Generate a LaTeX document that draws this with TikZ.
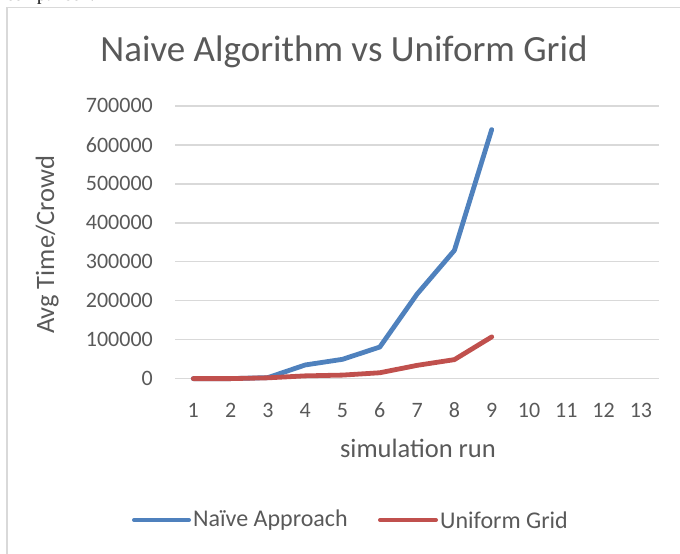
\documentclass[tikz,border=0pt]{standalone}
\usepackage{fontspec}
\setmainfont{Carlito}
\newfontfamily\serifdoc{Liberation Serif}
\definecolor{txtgray}{HTML}{595959}
\definecolor{gridgray}{HTML}{D9D9D9}
\definecolor{naiveblue}{HTML}{4F81BD}
\definecolor{gridred}{HTML}{C0504D}
\tikzset{
  ticklab/.style={text=txtgray, font=\fontsize{22}{24}\selectfont, inner sep=0pt},
  gridln/.style={draw=gridgray, line width=1.6pt},
  series/.style={line width=4.8pt, line cap=round, line join=round},
  legtxt/.style={text=txtgray, font=\fontsize{24}{26}\selectfont, inner sep=0pt, anchor=west},
}
\begin{document}
\begin{tikzpicture}[x=1pt, y=-1pt]
\useasboundingbox (0,0) rectangle (680,554);
\begin{scope}
\clip (0,0) rectangle (680,554);
% clipped text above the chart
\node[anchor=base west, inner sep=0pt, font=\serifdoc\fontsize{18}{20}\selectfont] (prev) at (6,1) {comparison.};
% chart frame
\draw[gridgray, line width=1.4pt] (6.8,600) -- (6.8,7.3) -- (700,7.3);
\end{scope}
% title
\node[anchor=base, text=txtgray, font=\fontsize{37}{40}\selectfont, inner sep=0pt] (title) at (344,61.7) {Naive Algorithm vs Uniform Grid};
% gridlines and y tick labels
\foreach \v/\lab in {0/0,1/100000,2/200000,3/300000,4/400000,5/500000,6/600000,7/700000}{
  \draw[gridln] (175,{378.6-38.97*\v}) -- (658.5,{378.6-38.97*\v});
  \node[ticklab, anchor=east] (yl\v) at (153,{378.6-38.97*\v}) {\lab};
}
% x tick labels
\foreach \i in {1,...,13}{
  \node[ticklab, anchor=base] (xl\i) at ({193.3+37.3*(\i-1)},417.3) {\i};
}
% axis titles
\node[anchor=base, text=txtgray, font=\fontsize{26.5}{28}\selectfont, inner sep=0pt] (xtitle) at (418,457) {simulation run};
\node[anchor=base, rotate=90, text=txtgray, font=\fontsize{26.5}{28}\selectfont, inner sep=0pt] (ytitle) at (54,245) {Avg Time/Crowd};
% data series
\begin{scope}[shift={(156,378.6)}, x=37.3pt, y=38.97pt]
\draw[series, naiveblue] (1,0) -- (2,0) -- (3,0.025) -- (4,0.35) -- (5,0.495) -- (6,0.81) -- (7,2.17) -- (8,3.29) -- (9,6.39);
\draw[series, gridred] (1,0) -- (2,0) -- (3,0.02) -- (4,0.07) -- (5,0.09) -- (6,0.15) -- (7,0.34) -- (8,0.487) -- (9,1.07);
\end{scope}
% legend
\coordinate (lb1) at (134,520);
\coordinate (lb2) at (189,520);
\draw[series, naiveblue, line width=4pt] (lb1) -- (lb2);
\node[legtxt] (legA) at (193,520) {Naïve Approach};
\coordinate (lr1) at (380,520);
\coordinate (lr2) at (436,520);
\draw[series, gridred, line width=4pt] (lr1) -- (lr2);
\node[legtxt] (legB) at (440,520) {Uniform Grid};
\end{tikzpicture}
\end{document}
